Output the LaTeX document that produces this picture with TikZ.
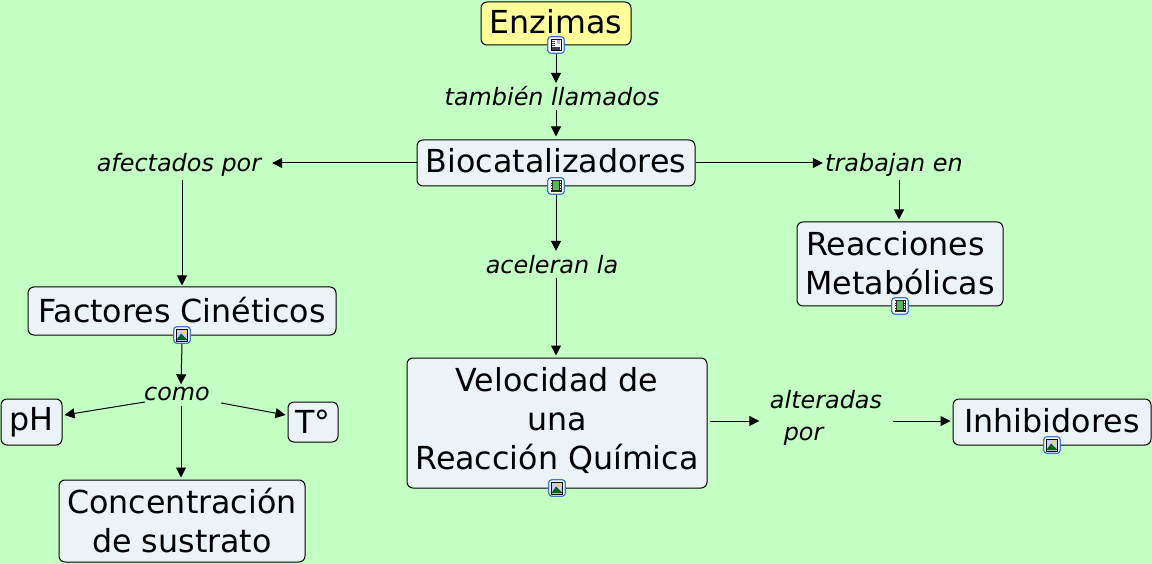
\documentclass[tikz,border=0pt]{standalone}
\usepackage{fontspec}
\setmainfont{DejaVu Sans}
\usetikzlibrary{arrows.meta,calc}
\definecolor{bgc}{HTML}{C4FFC4}
\definecolor{boxc}{HTML}{EBF3F6}
\definecolor{yelc}{HTML}{FFFF99}
\definecolor{iconb}{HTML}{3C78C8}
\tikzset{
 concept/.style={draw=black,line width=1pt,rounded corners=6pt,fill=boxc,align=center,inner sep=0pt,font=\fontsize{31.7}{39}\selectfont,text=black},
 linkw/.style={inner sep=0pt,align=center,font=\fontsize{23.9}{32}\selectfont\itshape,text=black},
 conn/.style={draw=black,line width=1pt,-{Triangle[length=10pt,width=10pt]}},
 ico/.style={draw=iconb,line width=1.2pt,rounded corners=3pt,fill=white,minimum width=16.5pt,minimum height=16.5pt,inner sep=0pt},
}
\newcommand{\up}[2]{\raisebox{#1}[\height][\depth]{#2}}
\newcommand{\icopage}[1]{%
 \draw[black,line width=0.5pt,fill=white] ($(#1)+(-5,-5.5)$) rectangle ($(#1)+(5,5.5)$);
 \fill[iconb!50] ($(#1)+(0.5,-4.5)$) rectangle ($(#1)+(4,-0.5)$);
 \foreach \yy in {-3.5,-1.5,0.5}{\draw[black!75,line width=0.4pt] ($(#1)+(-4,\yy)$) -- ($(#1)+(-1,\yy)$);}
 \foreach \yy in {2,3.2,4.4}{\draw[black!75,line width=0.4pt] ($(#1)+(-4,\yy)$) -- ($(#1)+(4,\yy)$);}
}
\newcommand{\icofilm}[1]{%
 \fill[black!85] ($(#1)+(-5.5,-6)$) rectangle ($(#1)+(5.5,6)$);
 \fill[green!55!black!65] ($(#1)+(-3,-4.5)$) rectangle ($(#1)+(3,4.5)$);
 \foreach \yy in {-4.5,-2,0.5,3}{
  \fill[white] ($(#1)+(-5,\yy)$) rectangle ($(#1)+(-3.8,\yy+1.3)$);
  \fill[white] ($(#1)+(3.8,\yy)$) rectangle ($(#1)+(5,\yy+1.3)$);}
}
\newcommand{\icoimg}[1]{%
 \fill[white!80!blue] ($(#1)+(-5.5,-6)$) rectangle ($(#1)+(5.5,6)$);
 \fill[yellow!80!orange] ($(#1)+(2,-3)$) circle (1.8pt);
 \fill[green!40!black] ($(#1)+(-5.5,5)$) -- ($(#1)+(-1,-1.5)$) -- ($(#1)+(5.5,5)$) -- cycle;
 \draw[black,line width=0.6pt] ($(#1)+(-5.5,-6)$) rectangle ($(#1)+(5.5,6)$);
}
\begin{document}
\begin{tikzpicture}[x=1pt,y=-1pt]
\path[use as bounding box,fill=bgc] (0,0) rectangle (1152,564);
% concepts
\node[concept,fill=yelc,minimum width=150pt,minimum height=43pt] (enz) at (556,23.5) {\up{2pt}{Enzimas}};
\node[concept,minimum width=278pt,minimum height=46pt] (bio) at (556,163) {\up{2pt}{Biocatalizadores}};
\node[concept,minimum width=206pt,minimum height=84pt] (rea) at (900,264) {\up{1pt}{Reacciones\phantom{i}}\\\up{1pt}{Metabólicas}};
\node[concept,minimum width=308pt,minimum height=48pt] (fac) at (182,311) {\up{1pt}{Factores Cinéticos}};
\node[concept,minimum width=61pt,minimum height=46pt] (ph) at (31.5,422) {pH};
\node[concept,minimum width=50pt,minimum height=40pt] (tem) at (313,422) {T°};
\node[concept,minimum width=246pt,minimum height=82pt] (con) at (182,521) {Concentración\\de sustrato};
\node[concept,minimum width=300pt,minimum height=130pt] (vel) at (557,423) {\up{3pt}{Velocidad de}\\\up{3pt}{una}\\\up{3pt}{Reacción Química}};
\node[concept,minimum width=198pt,minimum height=46pt] (inh) at (1052,422) {\up{1pt}{Inhibidores}};
% icons
\node[ico] (ienz) at (556,45) {}; \icopage{ienz}
\node[ico] (ibio) at (556,186) {}; \icofilm{ibio}
\node[ico] (irea) at (900,306) {}; \icofilm{irea}
\node[ico] (ifac) at (182,335) {}; \icoimg{ifac}
\node[ico] (ivel) at (557,488) {}; \icoimg{ivel}
\node[ico] (iinh) at (1052,445) {}; \icoimg{iinh}
% linking phrases
\node[linkw,minimum width=218pt,minimum height=27pt] (tam) at (552,96.5) {también llamados};
\node[linkw,minimum width=186pt,minimum height=34pt] (afe) at (179,163) {\up{-2pt}{afectados por}};
\node[linkw,minimum width=142pt,minimum height=34pt] (tra) at (894,163) {\up{-2pt}{trabajan en}};
\node[linkw,minimum width=140pt,minimum height=27pt] (ace) at (552,264.5) {aceleran la};
\node[linkw,minimum width=76pt,minimum height=21pt] (com) at (177,395) {\up{1pt}{como}};
\node[linkw,minimum width=133pt,minimum height=60pt] (alt) at (826,418) {alteradas\\\hspace*{-0.1em}por\phantom{xxx}};
% connectors
\draw[conn] (ienz.south) -- (ienz.south |- tam.north);
\draw[conn,shorten >=3pt] (ienz.south |- tam.south) -- (ienz.south |- bio.north);
\draw[conn] (bio.west) -- (afe.east);
\draw[conn] (afe.south -| fac.north) -- ($(fac.north)+(0,-1)$);
\draw[conn] (bio.east) -- (tra.west);
\draw[conn,shorten >=2pt] (899,0 |- tra.south) -- (899,0 |- rea.north);
\draw[conn] (ibio.south) -- (ibio.south |- ace.north);
\draw[conn,shorten >=2pt] (ibio.south |- ace.south) -- (ibio.south |- vel.north);
\draw[conn] (ifac.south) -- (181,0 |- com.north);
\draw[conn] ($(com.west)+(6,7)$) -- ($(ph.east)+(2,-7)$);
\draw[conn] ($(com.east)+(6,8)$) -- ($(tem.west)+(-2,-7)$);
\draw[conn,shorten >=2pt] (181,0 |- com.south) -- (181,0 |- con.north);
\draw[conn] ($(vel.east)+(2,-2)$) -- (alt.west |- 0,421);
\draw[conn,shorten >=2pt] (alt.east |- 0,421) -- (inh.west |- 0,421);
\end{tikzpicture}
\end{document}
